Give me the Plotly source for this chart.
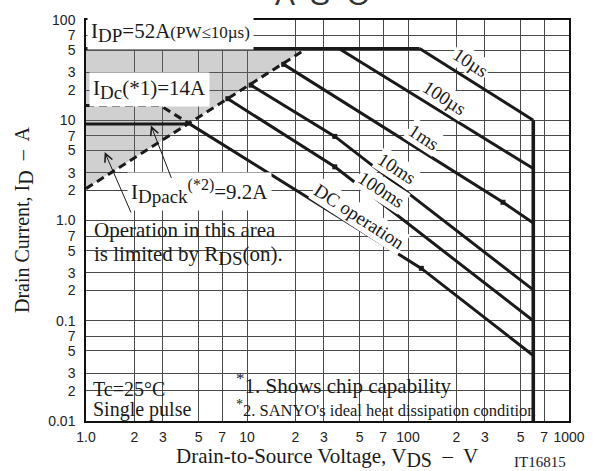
import plotly.graph_objects as go
import numpy as np

# ---------------- data ----------------
vds_idp = [1, 118];            id_idp = [52, 52]
vds_10us = [118, 600];         id_10us = [52, 10]
vds_100us = [37.2, 600];       id_100us = [52, 3.3]
vds_1ms = [16.9, 389, 600];    id_1ms = [36.1, 1.52, 0.945]
vds_10ms = [10.6, 35.1, 600];  id_10ms = [22.4, 6.9, 0.203]
vds_100ms = [7.6, 35.1, 600];  id_100ms = [16.4, 3.43, 0.1]
vds_dc = [4.4, 121, 600];      id_dc = [9.2, 0.333, 0.045]
vds_idpack = [1, 4.4];         id_idpack = [9.2, 9.2]
vds_idc = [1, 2.9, 4.4];       id_idc = [14, 14, 9.2]
vds_vdss = [600, 600];         id_vdss = [10, 0.01]
vds_rds = [1, 23.5];           id_rds = [2.08, 52]
vds_area = [1, 23.5, 1];       id_area = [52, 52, 2.08]
dots_v = [16.9, 10.6, 7.6, 35.1, 35.1, 389, 121]
dots_i = [36.1, 22.4, 16.4, 6.9, 3.43, 1.52, 0.333]

x_tickvals = [1, 2, 3, 5, 7, 10, 20, 30, 50, 70, 100, 200, 300, 500, 700, 1000]
x_ticktext = ["1.0", "2", "3", "5", "7", "10", "2", "3", "5", "7", "100",
              "2", "3", "5", "7", "1000"]
y_tickvals = [0.01, 0.02, 0.03, 0.05, 0.07, 0.1, 0.2, 0.3, 0.5, 0.7, 1,
              2, 3, 5, 7, 10, 20, 30, 50, 70, 100]
y_ticktext = ["0.01", "2", "3", "5", "7", "0.1", "2", "3", "5", "7", "1.0",
              "2", "3", "5", "7", "10", "2", "3", "5", "7", "100"]

# ---------------- layout helpers ----------------
W, H = 597, 471
L, R, T, B = 86, 20, 14, 50
PW, PH = W - L - R, H - T - B


def px(x):
    return (x - L) / PW


def py(y):
    return (H - B - y) / PH


SERIF = "Liberation Serif, Times New Roman, serif"
SANS = "Liberation Sans, Arial, sans-serif"
INK = "#1a1a1a"

fig = go.Figure()

# shaded area limited by RDS(on)
fig.add_trace(go.Scatter(x=vds_area, y=id_area, mode="lines", fill="toself",
                         fillcolor="rgba(110,110,110,0.32)",
                         line=dict(width=0), hoverinfo="skip"))


def solid(xv, yv, w=3.0):
    fig.add_trace(go.Scatter(x=xv, y=yv, mode="lines",
                             line=dict(color=INK, width=w), hoverinfo="skip"))


solid(vds_idp, id_idp)
solid(vds_10us, id_10us)
solid(vds_100us, id_100us)
solid(vds_1ms, id_1ms)
solid(vds_10ms, id_10ms)
solid(vds_100ms, id_100ms)
solid(vds_dc, id_dc)
solid(vds_idpack, id_idpack)
solid(vds_vdss, id_vdss, 3.6)

for xv, yv in [(vds_rds, id_rds), (vds_idc, id_idc)]:
    fig.add_trace(go.Scatter(x=xv, y=yv, mode="lines",
                             line=dict(color=INK, width=3, dash="8px,5px"),
                             hoverinfo="skip"))

fig.add_trace(go.Scatter(x=dots_v, y=dots_i, mode="markers",
                         marker=dict(symbol="square", size=5, color=INK),
                         hoverinfo="skip"))

axis_common = dict(type="log", showgrid=True, gridcolor="#4a4a4a", gridwidth=1,
                   showline=True, linecolor="#111", linewidth=1.5, mirror=True,
                   ticks="", zeroline=False,
                   tickfont=dict(family=SANS, size=14, color="#222"))
fig.update_xaxes(range=[0, 3], tickvals=x_tickvals, ticktext=x_ticktext,
                 ticklabelstandoff=2, **axis_common)
fig.update_yaxes(range=[-2, 2], tickvals=y_tickvals, ticktext=y_ticktext,
                 ticklabelstandoff=6, **axis_common)

# white boxes behind note texts (above grid, below traces)
shapes = []
for x0, y0, x1, y1 in [(86, 209, 300, 270), (86, 367, 176, 421),
                       (233, 367, 537, 421)]:
    shapes.append(dict(type="rect", xref="paper", yref="paper", layer="between",
                       x0=px(x0), x1=px(x1), y0=py(y1), y1=py(y0),
                       fillcolor="white", line=dict(width=0)))

ann = []


def text(x, y, s, size=20, xanchor="left", yanchor="middle", bg=None,
         angle=0, family=SERIF, color=INK, pad=2):
    d = dict(xref="paper", yref="paper", x=px(x), y=py(y), text=s,
             showarrow=False, xanchor=xanchor, yanchor=yanchor,
             font=dict(family=family, size=size, color=color),
             textangle=angle, borderpad=pad)
    if bg:
        d["bgcolor"] = bg
    ann.append(d)


def sub(s, size):
    return "<sub><span style='font-size:%dpx'>%s</span></sub>" % (size, s)


# boxed labels
text(87, 27, "I" + sub("DP", 19) + "=52A<span style='font-size:17px'>(PW≤10µs)</span>",
     size=21, bg="white", pad=3)
text(89, 85, "I" + sub("Dc", 19) + "(*1)=14A", size=21, bg="white", pad=3)
text(128, 188, "I" + sub("Dpack", 19) + "<sup><span style='font-size:16px'>(*2)</span></sup>=9.2A",
     size=21, bg="white", pad=3)
text(91, 227, "Operation in this area", size=21)
text(91, 253, "is limited by R" + sub("DS", 19) + "(on).", size=21)
text(90, 389, "Tc=25°C", size=20)
text(90, 409, "Single pulse", size=20)
text(235, 383, "<sup><span style='font-size:17px'>*</span></sup>1. Shows chip capability", size=21)
text(235, 408, "<sup><span style='font-size:14px'>*</span></sup>2. SANYO's ideal heat dissipation condition", size=16.5)

# curve labels
for s, cx, cy in [("10µs", 477, 57), ("100µs", 450, 93), ("1ms", 430, 133),
                  ("10ms", 402, 165), ("100ms", 386, 186),
                  ("DC operation", 364, 213)]:
    text(cx, cy, s, size=19, xanchor="center", bg="white", angle=33, pad=1)

# axis titles & misc
text(331, 458, "Drain-to-Source Voltage, V" + sub("DS", 20) + "  –  V", size=21,
     xanchor="center")
ann.append(dict(xref="paper", yref="paper", x=px(23), y=py(217), showarrow=False,
                text="Drain Current, I" + sub("D", 20) + "  –  A", textangle=-90,
                xanchor="center", yanchor="middle",
                font=dict(family=SERIF, size=20, color=INK)))
text(577, 463, "IT16815", size=15, xanchor="right")
text(326, 8, "A  S  O", size=30, xanchor="center", yanchor="bottom",
     family=SANS, color="#333")

# arrows
for hx, hy, tx, ty in [(105, 148, 132, 210), (152, 121, 173, 175)]:
    ann.append(dict(xref="paper", yref="paper", x=px(hx), y=py(hy), text="",
                    showarrow=True, axref="pixel", ayref="pixel",
                    ax=tx - hx, ay=ty - hy, arrowhead=5, arrowsize=1.6,
                    arrowwidth=1, arrowcolor=INK))

fig.update_layout(width=W, height=H, autosize=False,
                  margin=dict(l=L, r=R, t=T, b=B),
                  paper_bgcolor="white", plot_bgcolor="white",
                  showlegend=False, annotations=ann, shapes=shapes)

fig.write_html("out.html", config={"displayModeBar": False},
               post_script="document.body.style.margin='0';"
                           "document.body.style.overflow='hidden';")
